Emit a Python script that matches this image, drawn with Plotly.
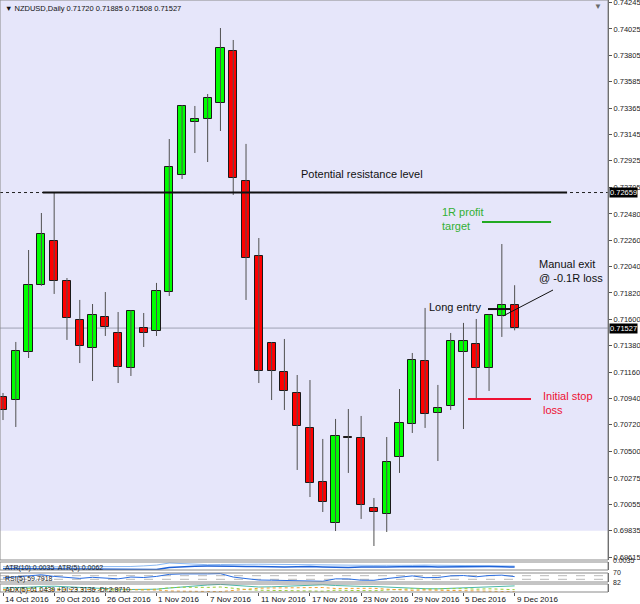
import plotly.graph_objects as go

# NZDUSD daily bars (MT4 chart, weekends skipped -> bar index on x)
dates = ["14 Oct 2016", "17 Oct 2016", "18 Oct 2016", "19 Oct 2016", "20 Oct 2016",
         "21 Oct 2016", "24 Oct 2016", "25 Oct 2016", "26 Oct 2016", "27 Oct 2016",
         "28 Oct 2016", "31 Oct 2016", "1 Nov 2016", "2 Nov 2016", "3 Nov 2016",
         "4 Nov 2016", "7 Nov 2016", "8 Nov 2016", "9 Nov 2016", "10 Nov 2016",
         "11 Nov 2016", "14 Nov 2016", "15 Nov 2016", "16 Nov 2016", "17 Nov 2016",
         "18 Nov 2016", "21 Nov 2016", "22 Nov 2016", "23 Nov 2016", "24 Nov 2016",
         "25 Nov 2016", "28 Nov 2016", "29 Nov 2016", "30 Nov 2016", "1 Dec 2016",
         "2 Dec 2016", "5 Dec 2016", "6 Dec 2016", "7 Dec 2016", "8 Dec 2016",
         "9 Dec 2016"]

opens = [0.70952, 0.70926, 0.71327, 0.71887, 0.72254, 0.71920, 0.71595, 0.71361, 0.71620, 0.71486,
         0.71194, 0.71528, 0.71503, 0.71828, 0.72806, 0.73248, 0.73273, 0.73407, 0.73841, 0.72756,
         0.72129, 0.71403, 0.71160, 0.70985, 0.70693, 0.70242, 0.69899, 0.70617, 0.70609, 0.70024,
         0.69974, 0.70450, 0.70726, 0.71252, 0.70818, 0.70876, 0.71327, 0.71394, 0.71194, 0.71628,
         0.71720]
highs = [0.70985, 0.71411, 0.72179, 0.72488, 0.72655, 0.71945, 0.71762, 0.71728, 0.71828, 0.71661,
         0.71675, 0.71653, 0.71904, 0.73106, 0.73390, 0.73382, 0.73482, 0.74033, 0.73933, 0.73065,
         0.72279, 0.71410, 0.71436, 0.71135, 0.71093, 0.70601, 0.70768, 0.70851, 0.70793, 0.70108,
         0.70617, 0.71018, 0.71319, 0.71695, 0.71052, 0.71486, 0.71570, 0.71603, 0.71640, 0.72229,
         0.71885]
lows = [0.70759, 0.70701, 0.71277, 0.71880, 0.71812, 0.71428, 0.71235, 0.71085, 0.71461, 0.71068,
        0.71127, 0.71369, 0.71461, 0.71795, 0.72772, 0.72989, 0.72914, 0.73173, 0.72639, 0.71762,
        0.71068, 0.70926, 0.70843, 0.70342, 0.70116, 0.69991, 0.69832, 0.70317, 0.69933, 0.69707,
        0.69824, 0.70317, 0.70651, 0.70693, 0.70417, 0.70843, 0.70684, 0.70943, 0.71002, 0.71453,
        0.71508]
closes = [0.70843, 0.71336, 0.71887, 0.72313, 0.71920, 0.71611, 0.71377, 0.71636, 0.71536, 0.71202,
          0.71670, 0.71486, 0.71837, 0.72872, 0.73382, 0.73273, 0.73449, 0.73866, 0.72781, 0.72112,
          0.71169, 0.71169, 0.71002, 0.70709, 0.70233, 0.70075, 0.70626, 0.70609, 0.70049, 0.69991,
          0.70409, 0.70734, 0.71261, 0.70810, 0.70860, 0.71419, 0.71419, 0.71194, 0.71636, 0.71720,
          0.71527]

# indicator sub-windows
atr10 = [0.0066, 0.0068, 0.0067, 0.0066, 0.0065, 0.0066, 0.0064, 0.0063, 0.0062, 0.0064,
         0.0068, 0.0074, 0.0082, 0.0103, 0.0097, 0.0090, 0.0086, 0.0088, 0.0092, 0.0090,
         0.0091, 0.0089, 0.0087, 0.0085, 0.0086, 0.0084, 0.0083, 0.0080, 0.0081, 0.0079,
         0.0080, 0.0078, 0.0080, 0.0082, 0.0081, 0.0079, 0.0080, 0.0078, 0.0077, 0.0079, 0.0072]
atr5 = [0.0046, 0.0047, 0.0045, 0.0044, 0.0045, 0.0044, 0.0043, 0.0042, 0.0041, 0.0039,
        0.0037, 0.0036, 0.0037, 0.0058, 0.0066, 0.0070, 0.0072, 0.0074, 0.0071, 0.0068,
        0.0070, 0.0066, 0.0062, 0.0065, 0.0067, 0.0063, 0.0060, 0.0058, 0.0062, 0.0060,
        0.0064, 0.0066, 0.0069, 0.0067, 0.0064, 0.0066, 0.0068, 0.0065, 0.0067, 0.0066, 0.0062]
rsi5 = [45, 58, 72, 80, 62, 48, 40, 52, 47, 35, 55, 50, 62, 85, 90, 88, 90, 93, 55, 38,
        22, 20, 17, 13, 9, 8, 35, 34, 20, 19, 38, 50, 68, 48, 50, 68, 72, 58, 72, 76, 59.79]
rsi_levels = [70, 30]
adx5 = [40, 42, 48, 55, 58, 52, 45, 38, 32, 28, 25, 24, 28, 40, 52, 62, 70, 76, 65, 55,
        50, 52, 56, 62, 68, 72, 65, 58, 56, 55, 48, 40, 35, 33, 32, 36, 42, 45, 50, 56, 61.04]
plus_di = [20, 28, 35, 40, 32, 26, 22, 25, 22, 18, 24, 22, 28, 42, 48, 45, 46, 50, 35, 25,
           18, 15, 13, 11, 9, 8, 18, 16, 12, 12, 20, 26, 32, 28, 27, 33, 34, 28, 32, 30, 23.31]
minus_di = [25, 20, 14, 10, 18, 24, 28, 24, 26, 32, 24, 25, 20, 10, 6, 5, 5, 4, 15, 28,
            38, 40, 42, 44, 46, 45, 35, 34, 38, 37, 28, 22, 16, 20, 19, 12, 10, 14, 8, 5, 2.87]

# price axis labels as printed by the terminal
price_ticks = [0.74245, 0.74025, 0.73805, 0.73585, 0.73365, 0.73145, 0.72925, 0.72705, 0.72480,
               0.72260, 0.72040, 0.71820, 0.71600, 0.71380, 0.71160, 0.70940, 0.70720, 0.70500,
               0.70275, 0.70055, 0.69835, 0.69615]

# drawn objects
resistance = 0.72659
last_price = 0.71527
profit_target = 0.72413
entry_price = 0.71686
stop_loss = 0.70935
box_bottom = 0.69835

FONT = "Liberation Sans"
n = len(closes)
idx = list(range(n))
xr = [-0.235, 47.3]
main_range = [0.69590, 0.74267]

fig = go.Figure()

# lavender rectangle object
fig.add_shape(type="rect", xref="paper", x0=0, x1=1, yref="y", y0=box_bottom, y1=main_range[1],
              fillcolor="#e6e6fa", line_width=0, layer="below")

# last price line
fig.add_shape(type="line", xref="paper", x0=0, x1=1, yref="y", y0=last_price, y1=last_price,
              line=dict(color="#9ea2b4", width=1), layer="below")
# horizontal line (dotted) + trend line drawn over it
fig.add_shape(type="line", xref="paper", x0=0, x1=1, yref="y", y0=resistance, y1=resistance,
              line=dict(color="#222222", width=1, dash="dot"))
fig.add_shape(type="line", x0=3.1, x1=44.1, y0=resistance, y1=resistance,
              line=dict(color="#111111", width=2))

# wicks
wx, wy = [], []
for i in idx:
    wx += [i, i, None]
    wy += [lows[i], highs[i], None]
fig.add_trace(go.Scatter(x=wx, y=wy, mode="lines", line=dict(color="#505050", width=1),
                         hoverinfo="skip"))

# bodies
base = [min(o, c) for o, c in zip(opens, closes)]
height = [max(abs(c - o), 0.00006) for o, c in zip(opens, closes)]
cols = ["#00ff00" if c > o else "#ff0000" for o, c in zip(opens, closes)]
fig.add_trace(go.Bar(x=idx, y=height, base=base, width=0.64,
                     marker=dict(color=cols, line=dict(color="#1a1a1a", width=1)),
                     customdata=list(zip(dates, opens, highs, lows, closes)),
                     hovertemplate="%{customdata[0]}<br>O %{customdata[1]}<br>H %{customdata[2]}"
                                   "<br>L %{customdata[3]}<br>C %{customdata[4]}<extra></extra>"))

# trade levels
fig.add_shape(type="line", x0=37.45, x1=42.85, y0=profit_target, y1=profit_target,
              line=dict(color="#22aa22", width=2))
fig.add_shape(type="line", x0=37.92, x1=39.64, y0=entry_price, y1=entry_price,
              line=dict(color="#111111", width=2))
fig.add_shape(type="line", x0=36.36, x1=41.28, y0=stop_loss, y1=stop_loss,
              line=dict(color="#ee1133", width=2))
fig.add_shape(type="line", x0=43.0, x1=39.1, y0=0.71845, y1=0.71628,
              line=dict(color="#111111", width=1))

# indicator windows
fig.add_trace(go.Scatter(x=idx, y=atr10, xaxis="x2", yaxis="y2", mode="lines",
                         line=dict(color="#8ab8f2", width=1)))
fig.add_trace(go.Scatter(x=idx, y=atr5, xaxis="x2", yaxis="y2", mode="lines",
                         line=dict(color="#1e62d8", width=1.5)))
for lv in rsi_levels:
    fig.add_trace(go.Scatter(x=xr, y=[lv, lv], xaxis="x3", yaxis="y3", mode="lines",
                             line=dict(color="#b8b8b8", width=1, dash="dash")))
fig.add_trace(go.Scatter(x=idx, y=rsi5, xaxis="x3", yaxis="y3", mode="lines",
                         line=dict(color="#2a6de0", width=1)))
fig.add_trace(go.Scatter(x=idx, y=adx5, xaxis="x4", yaxis="y4", mode="lines",
                         line=dict(color="#4ab8a8", width=1)))
fig.add_trace(go.Scatter(x=idx, y=plus_di, xaxis="x4", yaxis="y4", mode="lines",
                         line=dict(color="#9acd32", width=1, dash="dot")))
fig.add_trace(go.Scatter(x=idx, y=minus_di, xaxis="x4", yaxis="y4", mode="lines",
                         line=dict(color="#f0a030", width=1, dash="dot")))

# panel frames (heights in px of a 592px plot area)
H = 592.0
panels = {"": (0, 560), "2": (562, 570), "3": (573, 582), "4": (584, 592)}
dom = {k: [(H - b) / H, (H - t) / H] for k, (t, b) in panels.items()}
for k, d in dom.items():
    fig.add_shape(type="rect", xref="paper", yref="paper", x0=0, x1=1, y0=d[0], y1=d[1],
                  line=dict(color="#8a8a8a", width=1), fillcolor="rgba(0,0,0,0)")

ann = []
txt = dict(family=FONT, size=11, color="#111111")
ann.append(dict(x=28.07, y=0.72814, text="Potential resistance level", showarrow=False,
                font=txt, xanchor="center"))
ann.append(dict(x=34.15, y=0.72442, text="1R profit<br>target", showarrow=False, align="left",
                font=dict(family=FONT, size=11, color="#33b033"), xanchor="left"))
ann.append(dict(x=33.15, y=0.71700, text="Long entry", showarrow=False, font=txt, xanchor="left"))
ann.append(dict(x=41.75, y=0.72004, text="Manual exit<br>@ -0.1R loss", showarrow=False,
                align="left", font=txt, xanchor="left"))
ann.append(dict(x=42.05, y=0.70901, text="Initial stop<br>loss", showarrow=False, align="left",
                font=dict(family=FONT, size=11, color="#ee1133"), xanchor="left"))

# price tags on the axis
for v in [resistance, last_price]:
    ann.append(dict(xref="paper", x=1.0, y=v, text="%.5f" % v, showarrow=False, xanchor="left",
                    bgcolor="#000000", borderpad=0, xshift=1,
                    font=dict(family=FONT, size=7.5, color="#ffffff")))

# header
ann.append(dict(xref="paper", yref="paper", x=0.005, y=1, yshift=-2, yanchor="top", xanchor="left",
                text="\u25bc NZDUSD,Daily 0.71720 0.71885 0.71508 0.71527", showarrow=False,
                font=dict(family=FONT, size=7.5, color="#111111")))
ann.append(dict(xref="paper", yref="paper", x=0.983, y=1, yanchor="top", xanchor="center",
                text="\u25bc", showarrow=False, font=dict(family=FONT, size=8, color="#6a6a6a")))

# indicator captions
small = dict(family=FONT, size=7, color="#222222")
ann.append(dict(xref="paper", yref="paper", x=0.005, y=dom["2"][1], yanchor="top", xanchor="left",
                text="ATR(10) 0.0035  ATR(5) 0.0062", showarrow=False, font=small))
ann.append(dict(xref="paper", yref="paper", x=0.005, y=dom["3"][1], yanchor="top", xanchor="left",
                text="RSI(5) 59.7918", showarrow=False, font=small))
ann.append(dict(xref="paper", yref="paper", x=0.005, y=dom["4"][1], yanchor="top", xanchor="left",
                text="ADX(5) 61.0439 +DI:23.3136 -DI:2.8710", showarrow=False, font=small))
for k, t in [("2", "0.0035"), ("3", "70"), ("4", "82")]:
    ann.append(dict(xref="paper", yref="paper", x=1.0, xshift=3, y=sum(dom[k]) / 2,
                    xanchor="left", text=t, showarrow=False, font=small))

# date labels, left aligned at their tick like the terminal draws them
date_ticks = idx[::4]
for i in date_ticks:
    ann.append(dict(x=i, xref="x4", yref="paper", y=0, yanchor="top", yshift=-1, xanchor="left",
                    xshift=0, text=dates[i], showarrow=False,
                    font=dict(family=FONT, size=8, color="#111111")))

fig.update_layout(annotations=ann)

hidden_y = dict(showticklabels=False, showgrid=False, zeroline=False, fixedrange=True)
fig.update_layout(
    width=640, height=604,
    margin=dict(l=0, r=32, t=0, b=12, autoexpand=False),
    paper_bgcolor="#ffffff", plot_bgcolor="#ffffff",
    showlegend=False, bargap=0, hovermode="closest",
    font=dict(family=FONT, size=8, color="#111111"),
    xaxis=dict(range=xr, domain=[0, 1], anchor="y", showticklabels=False, showgrid=False,
               zeroline=False),
    yaxis=dict(range=main_range, domain=dom[""], side="right", tickvals=price_ticks,
               ticktext=["%.5f" % v for v in price_ticks], ticks="outside", ticklen=3,
               tickcolor="#555555", showline=True, linecolor="#555555", showgrid=False,
               zeroline=False, ticklabeloverflow="allow",
               tickfont=dict(family=FONT, size=7.5, color="#222222")),
    xaxis2=dict(range=xr, anchor="y2", matches="x", showticklabels=False, showgrid=False,
                zeroline=False),
    yaxis2=dict(range=[0.0033, 0.0113], domain=dom["2"], side="right", showline=True,
                linecolor="#555555", **hidden_y),
    xaxis3=dict(range=xr, anchor="y3", matches="x", showticklabels=False, showgrid=False,
                zeroline=False),
    yaxis3=dict(range=[0, 100], domain=dom["3"], side="right", showline=True,
                linecolor="#555555", **hidden_y),
    xaxis4=dict(range=xr, anchor="y4", matches="x", tickvals=date_ticks, showticklabels=False,
                ticks="outside", ticklen=3, tickcolor="#555555", showgrid=False, zeroline=False),
    yaxis4=dict(range=[0, 80], domain=dom["4"], side="right", showline=True,
                linecolor="#555555", **hidden_y),
)

# the browser's default 8px body margin would shift the fixed-size figure
fig.write_html("out.html", config={"displayModeBar": False},
               post_script="document.body.style.margin='0';")
